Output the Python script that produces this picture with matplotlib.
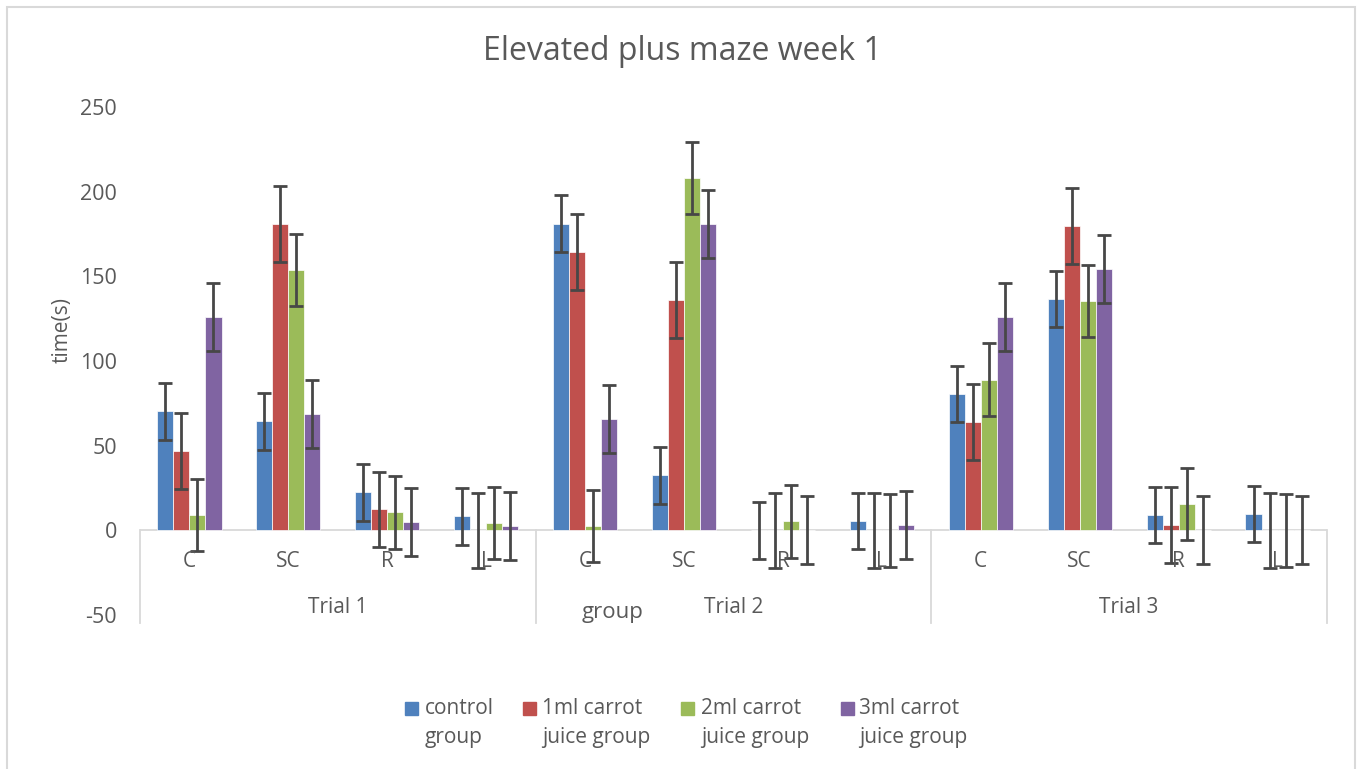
import numpy as np
import matplotlib
matplotlib.use("Agg")
import matplotlib.pyplot as plt
from matplotlib.patches import Rectangle
import matplotlib.transforms as mtransforms

plt.rcParams['font.family'] = ['Open Sans', 'DejaVu Sans']
plt.rcParams['axes.unicode_minus'] = False

# donnees
categories = ["C", "SC", "R", "L"] * 3
trials = ["Trial 1", "Trial 2", "Trial 3"]
series_names = ["control\ngroup", "1ml carrot\njuice group",
                "2ml carrot\njuice group", "3ml carrot\njuice group"]
control = [70.3, 64.4, 22.5, 8.3, 181.2, 32.5, 0, 5.5, 80.4, 136.7, 9.1, 9.7]
ml1 = [46.9, 180.9, 12.4, 0, 164.3, 136.1, 0, 0, 64.0, 179.7, 3.3, 0]
ml2 = [8.9, 153.7, 10.6, 4.3, 2.6, 208.0, 5.3, 0, 89.0, 135.5, 15.4, 0]
ml3 = [125.9, 68.6, 4.7, 2.8, 66.0, 180.7, 0, 3.2, 126.1, 154.1, 0, 0]
err_control = [16.7] * 12
err_ml1 = [22.3] * 12
err_ml2 = [21.4] * 12
err_ml3 = [20.1] * 12

valeurs = [control, ml1, ml2, ml3]
erreurs = [err_control, err_ml1, err_ml2, err_ml3]
couleurs = ['#4F81BD', '#C0504D', '#9BBB59', '#8064A2']
gris = '#595959'

W, H = 1360, 769
fig = plt.figure(figsize=(W / 100, H / 100), dpi=100)
ax = fig.add_axes([140 / W, 1 - 615 / H, (1327 - 140) / W, (615 - 107) / H])

x = np.arange(len(categories))
w = 0.162
for k in range(4):
    ax.bar(x + (k - 1.5) * w, valeurs[k], w, yerr=erreurs[k], color=couleurs[k],
           edgecolor='white', linewidth=0.5, capsize=5,
           error_kw=dict(ecolor='#474747', elinewidth=2, capthick=2))

ax.set_xlim(-0.5, len(categories) - 0.5)
ax.set_ylim(-50, 250)
for s in ax.spines.values():
    s.set_visible(False)
ax.axhline(0, color='#D9D9D9', lw=1.3, zorder=0)

ax.set_xticks([])
ax.set_yticks(range(-50, 251, 50))
ax.tick_params(axis='y', length=0, pad=16.5, labelsize=15.5, labelcolor=gris)

# axe des categories a deux niveaux
trans = mtransforms.blended_transform_factory(ax.transData, ax.transAxes)
y0 = 50 / 300
for b in [-0.5, 3.5, 7.5, 11.5]:
    ax.plot([b, b], [y0, -0.015], transform=trans, color='#D9D9D9', lw=1.3,
            clip_on=False)
for i, c in enumerate(categories):
    ax.text(i, -18.3, c, ha='center', va='center', fontsize=15, color=gris)
for j, t in enumerate(trials):
    ax.text(4 * j + 1.5, -45.5, t, ha='center', va='center', fontsize=15, color=gris)
ax.text(4.28, -48.5, "group", ha='center', va='center', fontsize=16, color=gris)

fig.text(62 / W, 1 - 330 / H, "time(s)", rotation=90, ha='center', va='center',
         fontsize=15, color=gris)
fig.text(682 / W, 1 - 52 / H, "Elevated plus maze week 1", ha='center',
         va='center', fontsize=23, color=gris)

# legende
carres = [405, 523, 681, 841]
textes = [425, 542, 701, 859]
for k in range(4):
    fig.add_artist(Rectangle((carres[k] / W, 1 - 715 / H), 13 / W, 13 / H,
                             transform=fig.transFigure, color=couleurs[k]))
    fig.text(textes[k] / W, 1 - 723 / H, series_names[k], ha='left', va='center',
             fontsize=15, color=gris, linespacing=1.55)

fig.add_artist(Rectangle((6.5 / W, -0.01), (1355 - 6.5) / W, 1.01 - 7 / H,
                         transform=fig.transFigure, fill=False,
                         edgecolor='#D9D9D9', lw=1.5))

fig.savefig("out.png", dpi=100)
